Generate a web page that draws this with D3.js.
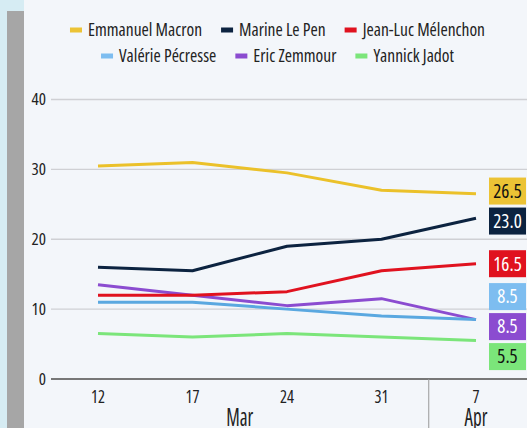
<!DOCTYPE html>
<html>
<head>
<meta charset="utf-8">
<script src="https://cdn.jsdelivr.net/npm/d3@7"></script>
<style>
  body { margin: 0; background: #f3f6fa; }
  svg { display: block; font-family: "Open Sans", sans-serif; font-stretch: condensed; }
</style>
</head>
<body>
<div id="chart"></div>
<script>
const dates = [`12`, `17`, `24`, `31`, `7`];
const months = [
  { name: `Mar`, from: `12`, to: `31` },
  { name: `Apr`, from: `7`, to: `7` }
];
const candidates = [`Emmanuel Macron`, `Marine Le Pen`, `Jean-Luc Mélenchon`, `Valérie Pécresse`, `Eric Zemmour`, `Yannick Jadot`];
const macron = [30.5, 31, 29.5, 27, 26.5];
const lePen = [16, 15.5, 19, 20, 23];
const melenchon = [12, 12, 12.5, 15.5, 16.5];
const pecresse = [11, 11, 10, 9, 8.5];
const zemmour = [13.5, 12, 10.5, 11.5, 8.5];
const jadot = [6.5, 6, 6.5, 6, 5.5];
const yTicks = [0, 10, 20, 30, 40];

const lineColors = [`#ebc12a`, `#0c2340`, `#e0121f`, `#5aa8e0`, `#8b4cd0`, `#7be57a`];
const boxColors = [`#ecc335`, `#0c2340`, `#e0121f`, `#7dbdf0`, `#8b4cd0`, `#7be57a`];
const boxText = [`#111`, `#fff`, `#fff`, `#fff`, `#fff`, `#111`];

const series = [macron, lePen, melenchon, pecresse, zemmour, jadot]
  .map((values, i) => ({ name: candidates[i], values, i }));

const W = 527, H = 428;
const svg = d3.select(`#chart`).append(`svg`)
  .attr(`width`, W)
  .attr(`height`, H);

// frame on the left
svg.append(`rect`).attr(`x`, 0).attr(`y`, 0).attr(`width`, 24).attr(`height`, H).attr(`fill`, `#d6ecf3`);
svg.append(`rect`).attr(`x`, 7).attr(`y`, 11).attr(`width`, 17).attr(`height`, H).attr(`fill`, `#a6a6a6`);
svg.append(`rect`).attr(`x`, 24).attr(`y`, 0).attr(`width`, W - 24).attr(`height`, H).attr(`fill`, `#f3f6fa`);

const x = d3.scalePoint().domain(dates).range([98, 476]);
const y = d3.scaleLinear().domain([0, 40]).range([379, 99.5]);

// grid + y labels
const grid = svg.append(`g`);
grid.selectAll(`line`)
  .data(yTicks)
  .enter().append(`line`)
    .attr(`x1`, 51)
    .attr(`x2`, W)
    .attr(`y1`, d => y(d))
    .attr(`y2`, d => y(d))
    .attr(`stroke`, d => d === 0 ? `#777` : `#cfd0d4`)
    .attr(`stroke-width`, d => d === 0 ? 2 : 1.3);
grid.selectAll(`text`)
  .data(yTicks)
  .enter().append(`text`)
    .attr(`x`, 46)
    .attr(`y`, d => y(d))
    .attr(`dy`, `0.35em`)
    .attr(`text-anchor`, `end`)
    .attr(`font-size`, 17)
    .attr(`fill`, `#222`)
    .text(d => d);

// x axis
const sep = (x(`31`) + x(`7`)) / 2;
svg.append(`line`)
  .attr(`x1`, sep).attr(`x2`, sep)
  .attr(`y1`, y(0)).attr(`y2`, H)
  .attr(`stroke`, `#999`).attr(`stroke-width`, 1);
svg.append(`g`).selectAll(`text`)
  .data(dates)
  .enter().append(`text`)
    .attr(`transform`, d => `translate(${x(d)},402.5) scale(1,1.12)`)
    .attr(`text-anchor`, `middle`)
    .attr(`font-size`, 16.5)
    .attr(`fill`, `#222`)
    .text(d => d);
svg.append(`g`).selectAll(`text`)
  .data(months)
  .enter().append(`text`)
    .attr(`transform`, d => `translate(${(x(d.from) + x(d.to)) / 2},426) scale(1,1.38)`)
    .attr(`text-anchor`, `middle`)
    .attr(`font-size`, 19)
    .attr(`fill`, `#222`)
    .text(d => d.name);

// lines
const line = d3.line()
  .x((d, i) => x(dates[i]))
  .y(d => y(d));
svg.append(`g`).selectAll(`path`)
  .data(series.slice().reverse())
  .enter().append(`path`)
    .attr(`d`, d => line(d.values))
    .attr(`fill`, `none`)
    .attr(`stroke`, d => lineColors[d.i])
    .attr(`stroke-width`, 3)
    .attr(`stroke-linejoin`, `round`);

// end labels, pushed apart so they do not overlap
const boxH = 27, step = 30;
const ends = series.map(s => ({ s, target: y(s.values[s.values.length - 1]) }))
  .sort((a, b) => a.target - b.target || a.s.i - b.s.i);
let groups = ends.map(e => ({ items: [e], center: e.target }));
let merged = true;
while (merged) {
  merged = false;
  for (let k = 0; k < groups.length - 1; k++) {
    const a = groups[k], b = groups[k + 1];
    const aBottom = a.center + (a.items.length - 1) * step / 2;
    const bTop = b.center - (b.items.length - 1) * step / 2;
    if (bTop - aBottom < step) {
      const items = a.items.concat(b.items);
      groups.splice(k, 2, { items, center: d3.mean(items, e => e.target) });
      merged = true;
      break;
    }
  }
}
groups.forEach(g => g.items.forEach((e, j) => {
  e.pos = g.center + (j - (g.items.length - 1) / 2) * step;
}));

const labels = svg.append(`g`).selectAll(`g`)
  .data(ends)
  .enter().append(`g`)
    .attr(`transform`, d => `translate(489, ${d.pos - boxH / 2})`);
labels.append(`rect`)
  .attr(`width`, 37)
  .attr(`height`, boxH)
  .attr(`fill`, d => boxColors[d.s.i]);
labels.append(`text`)
  .attr(`x`, 18.5)
  .attr(`y`, boxH / 2)
  .attr(`dy`, `0.36em`)
  .attr(`text-anchor`, `middle`)
  .attr(`font-size`, 19)
  .attr(`fill`, d => boxText[d.s.i])
  .text(d => d3.format(`.1f`)(d.s.values[d.s.values.length - 1]));

// legend, two centred rows
const rows = [series.slice(0, 3), series.slice(3)];
const rowY = [30, 56];
const legend = svg.append(`g`).attr(`font-size`, 17.5).attr(`fill`, `#222`);
rows.forEach((row, r) => {
  const g = legend.append(`g`);
  let cx = 0;
  row.forEach(s => {
    const item = g.append(`g`).attr(`transform`, `translate(${cx},0)`);
    item.append(`rect`).attr(`x`, 0).attr(`y`, rowY[r] - 2.5).attr(`width`, 12).attr(`height`, 5).attr(`fill`, boxColors[s.i]);
    const t = item.append(`text`).attr(`x`, 18).attr(`y`, rowY[r]).attr(`dy`, `0.35em`).text(s.name);
    cx += 18 + t.node().getComputedTextLength() + 19;
  });
  const total = cx - 19;
  g.attr(`transform`, `translate(${(24 + W) / 2 - total / 2 + 2},0)`);
});
</script>
</body>
</html>
